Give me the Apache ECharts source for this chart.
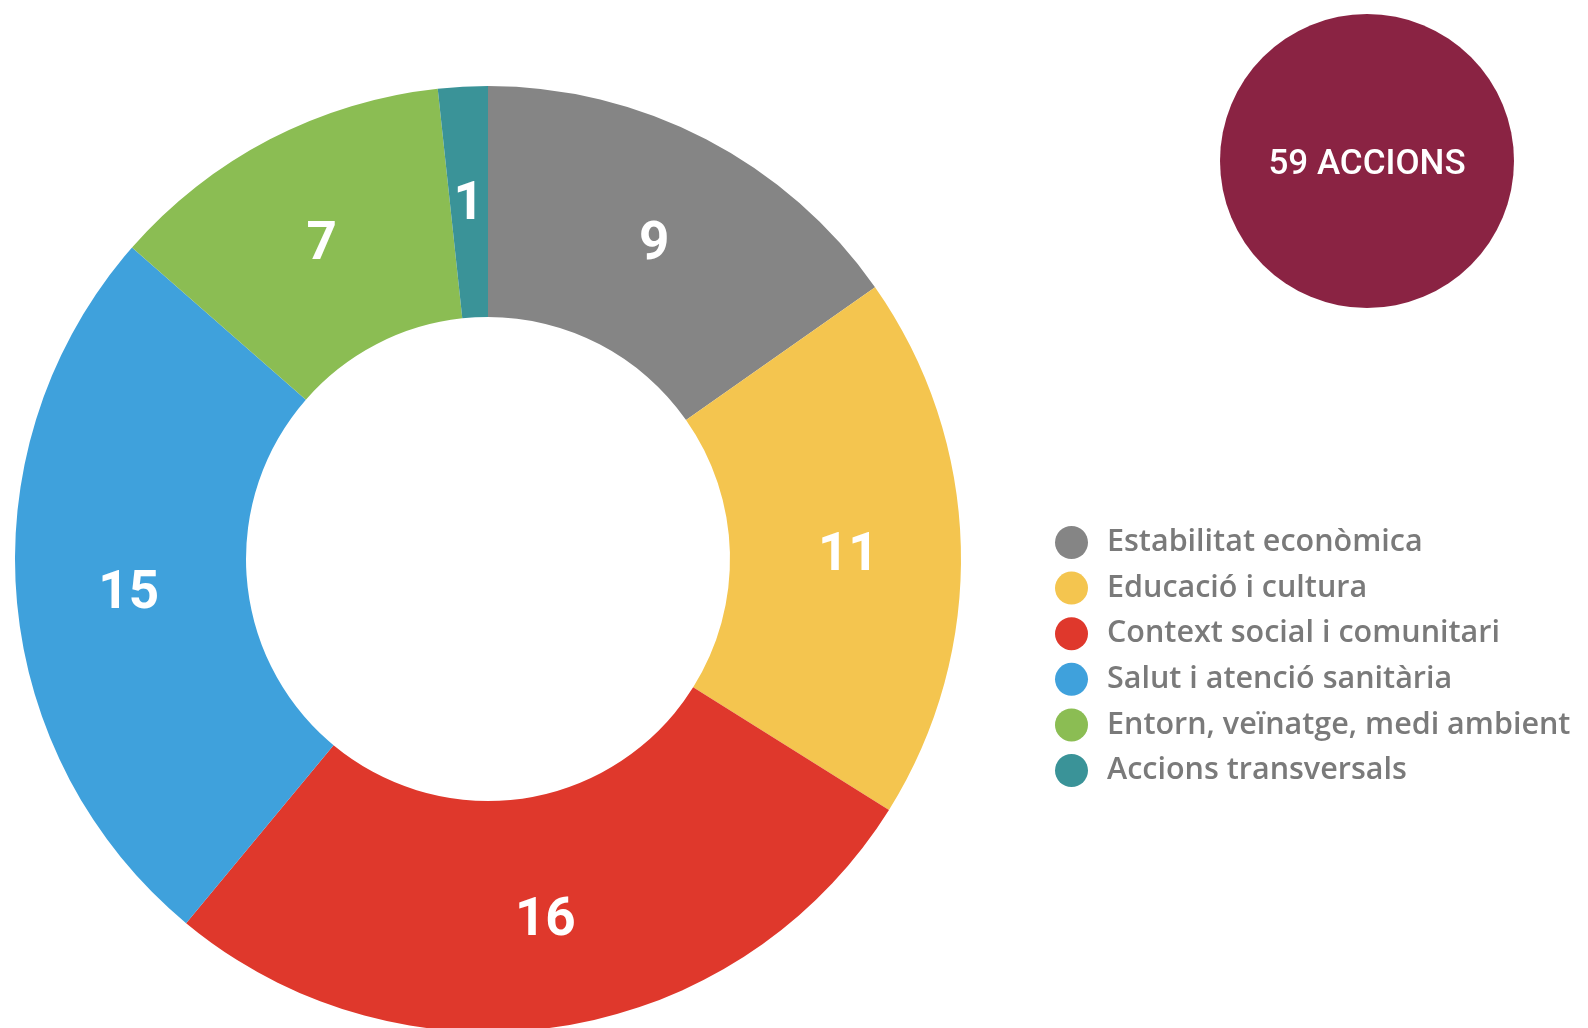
<!DOCTYPE html>
<html><head><meta charset="utf-8">
<script src="https://cdn.jsdelivr.net/npm/echarts@6/dist/echarts.min.js"></script>
<style>html,body{margin:0;padding:0;background:#fff}#c{width:1588px;height:1028px}</style>
</head><body><div id="c"></div>
<script>
const categories = ["Estabilitat econòmica","Educació i cultura","Context social i comunitari","Salut i atenció sanitària","Entorn, veïnatge, medi ambient","Accions transversals"];
const values = [9, 11, 16, 15, 7, 1];
const colors = ["#858585","#F4C54F","#DF382C","#3FA1DC","#8BBD53","#3A9398"];
const totalLabel = "59 ACCIONS";

const chart = echarts.init(document.getElementById('c'));
chart.setOption({
  animation: false,
  color: colors,
  legend: {
    orient: 'vertical', left: 1050, top: 521,
    icon: 'circle', itemWidth: 33, itemHeight: 33, itemGap: 12.6,
    textStyle: { color: '#7a7a7a', fontSize: 30.5, fontFamily: 'Open Sans', fontWeight: 600, padding: [0,0,0,14] },
    data: categories
  },
  graphic: [
    { type: 'circle', shape: { cx: 1367, cy: 161, r: 147 }, style: { fill: '#8A2343' } },
    { type: 'text', x: 1367, y: 165, style: { text: totalLabel, fill: '#fff', fontSize: 35, fontFamily: 'Roboto', fontWeight: 500, align: 'center', verticalAlign: 'middle' } }
  ],
  series: [{
    type: 'pie',
    center: [488, 559],
    radius: [242, 473],
    startAngle: 90,
    clockwise: true,
    silent: true,
    label: { show: true, position: 'inside', formatter: '{c}', color: '#fff', fontSize: 53, fontFamily: 'Roboto', fontWeight: 'bold' },
    labelLayout: { dy: 7 },
    labelLine: { show: false },
    itemStyle: { borderWidth: 0 },
    data: categories.map((n, i) => ({ name: n, value: values[i] }))
  }]
});
</script></body></html>
